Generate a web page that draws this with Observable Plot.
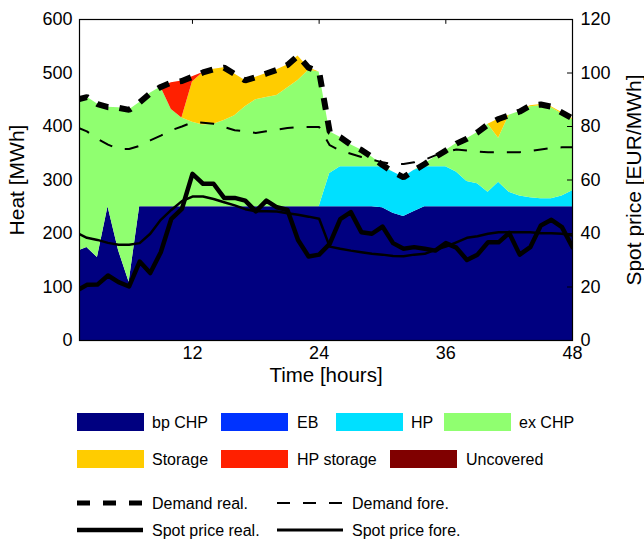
<!DOCTYPE html>
<html>
<head>
<meta charset="utf-8">
<script src="https://cdn.jsdelivr.net/npm/d3@7"></script>
<script src="https://cdn.jsdelivr.net/npm/@observablehq/plot@0.6"></script>
<style>
  body { margin: 0; background: #fff; }
  #chart { width: 644px; height: 541px; overflow: hidden; }
  #chart svg { display: block; }
</style>
</head>
<body>
<div id="chart"></div>
<script>
// ---------- data ----------
const hours = [1,2,3,4,5,6,7,8,9,10,11,12,13,14,15,16,17,18,19,20,21,22,23,24,
               25,26,27,28,29,30,31,32,33,34,35,36,37,38,39,40,41,42,43,44,45,46,47,48];

const bpCHP = [166,174,155,250,168,109,250,250,250,250,250,250,250,250,250,250,250,250,250,250,
               250,250,250,250,250,250,250,250,250,248,238,232,241,250,250,250,250,250,250,250,
               250,250,250,250,250,250,250,250];
const hp = [0,0,0,0,0,0,0,0,0,0,0,0,0,0,0,0,0,0,0,0,0,0,0,0,
            62,75,75,75,75,77,77,73,77,75,75,75,65,47,43,27,46,27,20,17,15,15,20,30];
const exCHP = [284,281,287,186,267,322,195,212,224,182,166,158,153,154,161,170,187,200,204,208,
               222,236,255,252,78,55,41,31,18,3,0,0,0,5,18,30,53,80,96,127,
               82,144,158,170,174,170,154,133];
const storage = [0,0,0,0,0,0,0,0,0,0,0,75,98,103,99,78,49,42,45,48,43,46,5,0,
                 0,0,0,0,0,0,0,0,0,0,0,0,0,0,0,0,36,0,0,2,2,2,2,2];
const hpStorage = [0,0,0,0,0,0,0,0,0,50,69,10,0,0,0,0,0,0,0,0,0,0,0,0,
                   0,0,0,0,0,0,0,0,0,0,0,0,0,0,0,0,0,0,0,0,0,0,0,0];

const demandReal = [450,455,442,436,435,431,445,462,474,482,485,493,501,507,510,498,486,492,499,506,
                    515,532,510,502,390,380,366,356,343,328,315,305,318,330,343,355,368,377,389,404,
                    414,421,428,439,441,437,426,415];
const demandFore = [399,391,377,366,358,358,364,374,383,393,400,408,407,405,399,393,391,388,391,394,
                    397,399,399,399,365,355,349,343,338,333,330,330,333,338,346,352,357,355,353,352,
                    352,352,352,354,357,360,361,361];
const spotReal = [18.5,20.8,20.9,24.3,21.8,20.2,29.5,25.2,33.0,45.5,49.2,62.3,58.6,58.6,53.3,53.3,52.3,48.3,52.3,49.8,
                  48.8,37.6,31.4,32.1,36.1,45.4,48.0,40.5,39.9,42.6,36.4,34.3,34.9,34.3,33.6,36.4,34.7,30.1,32.1,36.7,
                  36.7,40.2,32.1,34.9,43.0,45.1,42.4,34.9];
const spotFore = [40.3,38.4,37.6,36.5,35.8,35.8,36.4,39.9,45.1,48.8,52.1,53.8,53.8,52.9,51.7,50.5,49.1,48.3,48.3,48.2,
                  47.6,47.0,46.3,45.5,35.1,34.3,33.6,33.0,32.4,32.1,31.6,31.5,32.1,32.4,33.9,35.1,36.7,38.4,39.0,39.9,
                  40.5,40.5,40.5,40.5,40.1,40.1,39.9,39.2];

const xTicks = [12, 24, 36, 48];
const yTicks = [0, 100, 200, 300, 400, 500, 600];
const priceFactor = 5; // right axis 0..120 EUR/MWh maps onto 0..600 MWh

const legendNames  = ["bp CHP", "EB", "HP", "ex CHP", "Storage", "HP storage", "Uncovered"];
const legendColors = ["#000080", "#0033ff", "#00e0ff", "#90ff70", "#ffcc00", "#ff2000", "#800000"];
const stackNames = ["bp CHP", "HP", "ex CHP", "Storage", "HP storage"];
const stackArrays = [bpCHP, hp, exCHP, storage, hpStorage];

// ---------- tables ----------
const areaRows = [];
stackNames.forEach((name, k) => hours.forEach((h, i) => areaRows.push({hour: h, source: name, value: stackArrays[k][i]})));
const lineRows = hours.map((h, i) => ({
  hour: h, demandReal: demandReal[i], demandFore: demandFore[i],
  spotReal: spotReal[i] * priceFactor, spotFore: spotFore[i] * priceFactor
}));

const font = "'Liberation Sans', Arial, Helvetica, sans-serif";

const chart = Plot.plot({
  width: 644, height: 390,
  marginLeft: 79, marginRight: 72, marginTop: 19, marginBottom: 50,
  style: {fontFamily: font, fontSize: "18px", background: "white", color: "black"},
  x: {domain: [1.3, 48]},
  y: {domain: [0, 600]},
  color: {domain: legendNames, range: legendColors},
  marks: [
    Plot.areaY(areaRows, {x: "hour", y: "value", fill: "source", order: stackNames, curve: "linear", clip: true}),
    Plot.line(lineRows, {x: "hour", y: "demandFore", stroke: "black", strokeWidth: 2, strokeDasharray: "14,13", strokeLinecap: "butt", clip: true}),
    Plot.line(lineRows, {x: "hour", y: "spotFore", stroke: "black", strokeWidth: 2.5, clip: true}),
    Plot.line(lineRows, {x: "hour", y: "spotReal", stroke: "black", strokeWidth: 4.5, clip: true}),
    Plot.line(lineRows, {x: "hour", y: "demandReal", stroke: "black", strokeWidth: 6, strokeDasharray: "12,11", strokeLinecap: "butt", strokeLinejoin: "miter", clip: true}),
    Plot.ruleX(xTicks.slice(0, 3), {y1: 600, y2: 591, stroke: "black", strokeWidth: 1}),
    Plot.ruleY(yTicks.slice(1, 6), {x1: 48, x2: 47.53, stroke: "black", strokeWidth: 1}),
    Plot.frame({stroke: "black", strokeWidth: 1.2}),
    Plot.axisX(xTicks, {anchor: "bottom", tickSize: 0, tickPadding: 6, fontSize: 18, label: null}),
    Plot.axisY(yTicks, {anchor: "left", tickSize: 0, tickPadding: 7, fontSize: 18, label: null}),
    Plot.axisY(yTicks, {anchor: "right", tickSize: 0, tickPadding: 8, fontSize: 18, label: null, tickFormat: d => String(d / priceFactor)}),
    Plot.text(["Time [hours]"], {text: d => d, frameAnchor: "bottom", dy: 35, textAnchor: "middle", lineAnchor: "middle", fontSize: 20.5}),
    Plot.text(["Heat [MWh]"], {text: d => d, frameAnchor: "left", dx: -62, rotate: -90, textAnchor: "middle", lineAnchor: "middle", fontSize: 21}),
    Plot.text(["Spot price [EUR/MWh]"], {text: d => d, frameAnchor: "right", dx: 62, rotate: -90, textAnchor: "middle", lineAnchor: "middle", fontSize: 21})
  ]
});
document.getElementById("chart").appendChild(chart);

// ---------- legend (below the plot) ----------
const leg = d3.create("svg").attr("width", 644).attr("height", 151)
  .style("font-family", font).style("font-size", "16px");
const swatchItems = [
  {name: "bp CHP", col: 0, row: 0}, {name: "EB", col: 1, row: 0}, {name: "HP", col: 2, row: 0}, {name: "ex CHP", col: 3, row: 0},
  {name: "Storage", col: 0, row: 1}, {name: "HP storage", col: 1, row: 1}, {name: "Uncovered", col: 2, row: 1}
];
const swX = [[77, 221, 336, 444], [77, 221, 390]];
const lbX = [[152, 297, 411, 519], [152, 297, 466]];
const rowY = [23, 60];
swatchItems.forEach(it => {
  const color = legendColors[legendNames.indexOf(it.name)];
  leg.append("rect").attr("x", swX[it.row][it.col]).attr("y", rowY[it.row])
    .attr("width", 67).attr("height", 18).attr("fill", color);
  leg.append("text").attr("x", lbX[it.row][it.col]).attr("y", rowY[it.row] + 9).attr("dy", "0.35em")
    .attr("fill", "black").text(it.name);
});
const lineItems = [
  {name: "Demand real.", x: 77, y: 113, w: 5, dash: "13,13"},
  {name: "Demand fore.", x: 277, y: 113, w: 2, dash: "13,13"},
  {name: "Spot price real.", x: 77, y: 140, w: 4.3, dash: null},
  {name: "Spot price fore.", x: 277, y: 140, w: 2.8, dash: null}
];
lineItems.forEach(it => {
  const l = leg.append("line").attr("x1", it.x).attr("x2", it.x + 66).attr("y1", it.y).attr("y2", it.y)
    .attr("stroke", "black").attr("stroke-width", it.w);
  if (it.dash) l.attr("stroke-dasharray", it.dash);
  leg.append("text").attr("x", it.x + 75).attr("y", it.y).attr("dy", "0.35em").attr("fill", "black").text(it.name);
});
document.getElementById("chart").appendChild(leg.node());
</script>
</body>
</html>
